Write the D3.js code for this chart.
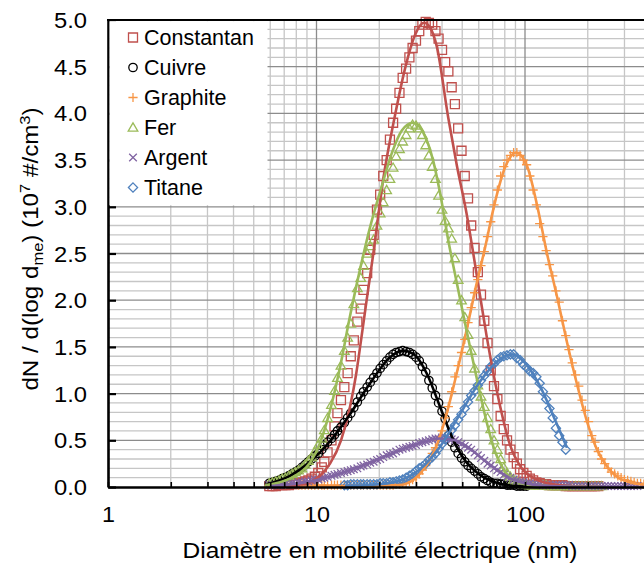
<!DOCTYPE html>
<html><head><meta charset="utf-8">
<script src="https://cdn.jsdelivr.net/npm/d3@7"></script>
<style>
html,body{margin:0;padding:0;background:#fff;}
svg{display:block;font-family:"Liberation Sans",Arial,sans-serif;}
</style></head><body>
<svg id="chart" width="644" height="565"></svg>
<script>
// ---------- DATA ----------
const diameters = [5.94,6.15,6.38,6.61,6.85,7.10,7.37,7.64,7.91,8.20,
8.51,8.82,9.14,9.47,9.82,10.2,10.6,10.9,11.3,11.8,
12.2,12.6,13.1,13.6,14.1,14.6,15.1,15.7,16.3,16.8,
17.5,18.1,18.8,19.5,20.2,20.9,21.7,22.5,23.3,24.1,
25.0,25.9,26.9,27.9,28.9,30.0,31.1,32.2,33.4,34.6,
35.9,37.2,38.5,40.0,41.4,42.9,44.5,46.1,47.8,49.6,
51.4,53.3,55.2,57.3,59.4,61.5,63.8,66.1,68.5,71.0,
73.7,76.4,79.1,82.0,85.1,88.2,91.4,94.7,98.2,101.8,
105.5,109.4,113.4,117.6,121.9,126.3,131.0,135.8,140.7,145.9,
151.2,156.8,162.5,168.5,174.7,181.1,187.7,194.6,201.7,209.1,
216.7,224.7,232.9,241.4,250.3,259.5,269.0,278.8,289.0,299.6,
310.6,322.0,333.8,346.0,358.7,371.8,385.4,399.5];

const seriesNames = ["Constantan","Cuivre","Graphite","Fer","Argent","Titane"];
const seriesStart = [0,0,9,0,0,23];   // first channel index of each series

const constantanValues = [0.01,0.01,0.01,0.02,0.02,0.02,0.02,0.03,0.03,0.04,
0.05,0.06,0.07,0.09,0.11,0.15,0.21,0.27,0.37,0.50,
0.65,0.79,0.93,1.07,1.22,1.40,1.57,1.77,1.91,2.11,
2.29,2.54,2.70,2.97,3.13,3.33,3.50,3.72,3.90,4.05,
4.22,4.38,4.48,4.60,4.70,4.78,4.88,4.95,4.98,4.97,
4.95,4.88,4.80,4.68,4.55,4.45,4.28,4.10,3.84,3.60,
3.33,3.09,2.80,2.56,2.30,2.06,1.78,1.54,1.25,1.08,
0.94,0.76,0.62,0.50,0.40,0.32,0.25,0.19,0.15,0.12,
0.09,0.07,0.05,0.04,0.03,0.03,0.02,0.02,0.02,0.02,
0.02,0.01,0.01,0.01,0.01,0.01,0.01,0.01,0.01,0.01,
0.01,0.01];

const cuivreValues = [0.04,0.05,0.06,0.07,0.09,0.10,0.12,0.14,0.16,0.18,
0.21,0.24,0.27,0.30,0.33,0.36,0.40,0.44,0.48,0.52,
0.56,0.60,0.64,0.69,0.74,0.79,0.85,0.91,0.97,1.02,
1.07,1.12,1.17,1.22,1.27,1.31,1.35,1.39,1.42,1.44,
1.45,1.46,1.45,1.44,1.42,1.39,1.35,1.29,1.23,1.14,
1.06,0.98,0.90,0.81,0.73,0.55,0.48,0.42,0.36,0.31,
0.27,0.23,0.20,0.17,0.14,0.11,0.09,0.07,0.05,0.04,
0.04,0.03,0.03,0.02,0.02,0.02,0.01,0.01,0.01,0.01];

const graphiteValues = [0.02,0.02,0.02,0.02,0.02,0.02,0.02,0.02,0.02,0.02,0.02,
0.02,0.02,0.02,0.02,0.02,0.02,0.02,0.02,0.02,0.02,
0.02,0.02,0.02,0.02,0.02,0.02,0.02,0.02,0.02,0.03,
0.03,0.04,0.05,0.06,0.08,0.10,0.14,0.18,0.23,0.28,
0.36,0.42,0.50,0.60,0.74,0.86,1.02,1.18,1.30,1.44,
1.58,1.76,1.92,2.08,2.22,2.37,2.52,2.68,2.84,3.02,
3.18,3.33,3.43,3.50,3.55,3.58,3.58,3.55,3.50,3.45,
3.33,3.18,3.02,2.82,2.68,2.53,2.38,2.26,2.10,1.98,
1.78,1.62,1.47,1.33,1.20,1.08,0.93,0.82,0.70,0.55,
0.48,0.38,0.30,0.25,0.20,0.16,0.14,0.12,0.10,0.08,
0.07,0.06,0.05,0.04,0.04,0.03,0.03,0.02];

const ferValues = [0.04,0.05,0.06,0.07,0.09,0.10,0.12,0.14,0.16,0.18,
0.20,0.24,0.28,0.32,0.38,0.45,0.52,0.61,0.74,0.88,
1.03,1.17,1.30,1.46,1.60,1.75,1.96,2.13,2.24,2.37,
2.50,2.58,2.65,2.80,2.93,3.05,3.18,3.30,3.42,3.54,
3.62,3.70,3.77,3.84,3.88,3.87,3.84,3.77,3.66,3.55,
3.43,3.30,3.12,2.97,2.85,2.77,2.66,2.45,2.22,2.00,
1.82,1.63,1.46,1.27,1.09,0.97,0.86,0.74,0.62,0.50,
0.40,0.30,0.21,0.15,0.11,0.08,0.06,0.04,0.03,0.03,
0.02,0.02,0.02,0.02,0.02,0.02,0.01,0.01,0.01,0.01,
0.01,0.01,0.01,0.01,0.01,0.01,0.01,0.01,0.01,0.01,
0.01,0.01,0.01];

const argentValues = [0.02,0.02,0.02,0.02,0.03,0.03,0.03,0.04,0.04,0.05,
0.05,0.06,0.06,0.07,0.08,0.08,0.09,0.10,0.11,0.12,
0.13,0.14,0.15,0.16,0.17,0.18,0.19,0.20,0.22,0.23,
0.24,0.26,0.27,0.29,0.30,0.32,0.34,0.35,0.36,0.38,
0.40,0.41,0.42,0.43,0.44,0.45,0.47,0.48,0.49,0.50,
0.51,0.52,0.52,0.53,0.53,0.52,0.51,0.50,0.48,0.46,
0.44,0.42,0.40,0.37,0.34,0.31,0.28,0.25,0.23,0.20,
0.18,0.16,0.13,0.11,0.10,0.08,0.07,0.06,0.05,0.04,
0.04,0.03,0.03,0.03,0.02,0.02,0.02,0.02,0.02,0.02,
0.02,0.02,0.02,0.01,0.01,0.01,0.01,0.01,0.01,0.01,
0.01,0.01,0.01,0.01,0.01,0.01,0.01,0.01,0.01,0.01,
0.01,0.01,0.01,0.01];

const titaneValues = [0.02,0.02,0.03,0.03,0.03,0.03,0.03,
0.03,0.03,0.03,0.03,0.04,0.04,0.04,0.05,0.05,0.06,
0.07,0.08,0.10,0.12,0.14,0.17,0.20,0.22,0.25,0.29,
0.32,0.36,0.41,0.46,0.51,0.56,0.61,0.66,0.72,0.78,
0.84,0.91,0.98,1.03,1.09,1.14,1.19,1.24,1.29,1.32,
1.36,1.39,1.40,1.41,1.42,1.42,1.38,1.36,1.31,1.28,
1.24,1.22,1.18,1.11,1.02,0.94,0.84,0.74,0.63,0.55,
0.48,0.40];

// fitted curves: [diameter (nm), value]
const constantanFit = [[5.77,0.0],[8.33,0.02],[9.31,0.05],[10.39,0.12],[11.61,0.25],[13.11,0.50],[14.48,0.86],[15.47,1.20],[16.35,1.57],[17.47,2.03],[18.73,2.50],[20.91,3.30],[23.80,3.98],[26.58,4.48],[29.68,4.84],[32.78,4.97],[35.03,4.92],[37.72,4.72],[42.87,3.95],[47.04,3.45],[52.53,2.92],[56.49,2.50],[60.84,2.05],[65.52,1.61],[70.47,1.22],[77.31,0.79],[84.76,0.45],[96.43,0.20],[113.8,0.08],[136.2,0.03],[164.4,0.01],[228.9,0.0]];
const cuivreFit = [[5.77,0.03],[7.46,0.12],[9.31,0.27],[11.61,0.49],[14.48,0.78],[18.06,1.11],[22.52,1.39],[25.99,1.46],[29.68,1.41],[33.88,1.21],[39.12,0.86],[45.15,0.51],[52.12,0.27],[60.84,0.13],[71.79,0.05],[89.54,0.01],[118.0,0.0]];
const graphiteFit = [[8.33,0.0],[25.15,0.02],[29.68,0.09],[33.14,0.21],[37.01,0.40],[41.34,0.72],[46.15,1.14],[51.55,1.60],[57.57,2.10],[64.29,2.56],[71.79,3.05],[80.18,3.42],[90.53,3.58],[102.2,3.44],[114.2,3.02],[127.5,2.50],[142.4,2.04],[159.0,1.55],[177.6,1.10],[198.4,0.70],[221.5,0.40],[247.4,0.22],[276.2,0.11],[318.8,0.05],[376.2,0.02],[420.2,0.01]];
const ferFit = [[5.77,0.02],[7.46,0.09],[8.33,0.15],[9.31,0.26],[10.39,0.47],[11.61,0.82],[12.96,1.28],[14.48,1.83],[16.17,2.33],[18.06,2.78],[20.55,3.22],[23.02,3.58],[25.71,3.82],[29.03,3.90],[32.42,3.80],[36.21,3.50],[39.12,3.15],[42.87,2.64],[46.15,2.28],[50.42,1.86],[54.48,1.50],[58.86,1.15],[65.73,0.68],[71.79,0.38],[78.43,0.20],[87.59,0.08],[100,0.03],[124.7,0.01],[228.9,0.0]];
const argentFit = [[5.98,0.01],[8.33,0.04],[11.61,0.11],[16.17,0.22],[22.52,0.35],[31.36,0.47],[39.12,0.52],[46.15,0.50],[54.48,0.41],[64.29,0.28],[75.87,0.16],[89.54,0.07],[105.7,0.03],[131.8,0.01],[228.9,0.0],[376.2,0.0]];
const titaneFit = [[13.70,0.01],[20.16,0.03],[25.15,0.07],[31.36,0.19],[39.12,0.43],[48.78,0.78],[60.84,1.13],[75.87,1.37],[86.62,1.42],[100,1.33],[118.0,1.08],[139.3,0.72],[159.0,0.42]];

const yTickValues = [0,0.5,1,1.5,2,2.5,3,3.5,4,4.5,5];
const xTickLabels = [1,10,100];

// ---------- STYLE ----------
const colors = ["#C0504D","#000000","#F79646","#9BBB59","#8064A2","#4F81BD"];
const markerPaths = [
  "M-4.5,-4.5H4.5V4.5H-4.5Z",
  "M-4.2,0A4.2,4.2 0 1,0 4.2,0A4.2,4.2 0 1,0 -4.2,0Z",
  "M-4.6,0H4.6M0,-4.6V4.6",
  "M0,-4.6L4.8,3.6H-4.8Z",
  "M-3.8,-3.8L3.8,3.8M-3.8,3.8L3.8,-3.8",
  "M0,-4.6L4.6,0L0,4.6L-4.6,0Z"
];
const valuesList = [constantanValues,cuivreValues,graphiteValues,ferValues,argentValues,titaneValues];
const fitList = [constantanFit,cuivreFit,graphiteFit,ferFit,argentFit,titaneFit];

const series = seriesNames.map((name,k)=>({
  name, color: colors[k], marker: markerPaths[k],
  points: valuesList[k].map((v,j)=>({d: diameters[seriesStart[k]+j], v})),
  fit: fitList[k]
}));

// ---------- CHART ----------
const svg = d3.select("#chart");
const x = d3.scaleLog().domain([1,1000]).range([108,733.5]);
const y = d3.scaleLinear().domain([0,5]).range([487,20]);
const FONT = '"Liberation Sans", Arial, sans-serif';

// grid
const minorX = [], majorX = [10,100];
[1,10,100].forEach(dec=>{ for(let k=2;k<=9;k++) minorX.push(dec*k); });
const minorY = d3.range(1,50).filter(i=>i%5!==0).map(i=>i/10);
const majorY = [0.5,1,1.5,2,2.5,3,3.5,4,4.5];
const grid = svg.append("g");
grid.selectAll(".gmy").data(minorY).join("line")
  .attr("x1",108).attr("x2",733.5).attr("y1",d=>y(d)).attr("y2",d=>y(d))
  .attr("stroke","#c6c6c6").attr("stroke-width",1.3);
grid.selectAll(".gmx").data(minorX).join("line")
  .attr("x1",d=>x(d)).attr("x2",d=>x(d)).attr("y1",20).attr("y2",487)
  .attr("stroke","#c6c6c6").attr("stroke-width",1.3);
grid.selectAll(".gMy").data(majorY).join("line")
  .attr("x1",108).attr("x2",733.5).attr("y1",d=>y(d)).attr("y2",d=>y(d))
  .attr("stroke","#8c8c8c").attr("stroke-width",1.3);
grid.selectAll(".gMx").data(majorX).join("line")
  .attr("x1",d=>x(d)).attr("x2",d=>x(d)).attr("y1",20).attr("y2",487)
  .attr("stroke","#8c8c8c").attr("stroke-width",1.3);

// markers
series.forEach(s=>{
  svg.append("g").selectAll("path").data(s.points).join("path")
    .attr("d",s.marker)
    .attr("transform",p=>`translate(${x(p.d)},${y(p.v)})`)
    .attr("fill","none").attr("stroke",s.color).attr("stroke-width",1.3);
});
// fitted lines
const line = d3.line().x(p=>x(p[0])).y(p=>y(p[1])).curve(d3.curveMonotoneX);
series.forEach(s=>{
  svg.append("path").attr("d",line(s.fit))
    .attr("fill","none").attr("stroke",s.color).attr("stroke-width",2.6)
    .attr("stroke-linejoin","round");
});

// top border
svg.append("line").attr("x1",107).attr("x2",733.5).attr("y1",20).attr("y2",20)
  .attr("stroke","#000").attr("stroke-width",2.2);

// axes
const yAxis = d3.axisLeft(y).tickValues(yTickValues).tickSize(-8).tickSizeOuter(0)
  .tickPadding(21).tickFormat(d3.format(".1f"));
const gy = svg.append("g").attr("transform","translate(108,0)").call(yAxis);
gy.select(".domain").attr("stroke","#000").attr("stroke-width",2.6);
gy.selectAll(".tick line").attr("stroke","#000").attr("stroke-width",2.2);
gy.selectAll(".tick text").attr("font-size",21.5).attr("font-family",FONT)
  .attr("fill","#000").attr("dy","0.35em")
  .attr("textLength",33).attr("lengthAdjust","spacingAndGlyphs");

const xTickValues = [1].concat(minorX.filter(v=>v<10),[10],minorX.filter(v=>v>10&&v<100),[100],minorX.filter(v=>v>100));
const xAxis = d3.axisBottom(x).tickValues(xTickValues).tickSize(-5).tickSizeOuter(0)
  .tickPadding(20).tickFormat(d=>xTickLabels.includes(d)?String(d):"");
const gx = svg.append("g").attr("transform","translate(0,487)").call(xAxis);
gx.select(".domain").attr("stroke","#000").attr("stroke-width",2.6);
gx.selectAll(".tick line").attr("stroke","#000").attr("stroke-width",1.6);
gx.selectAll(".tick text").attr("font-size",21.5).attr("font-family",FONT)
  .attr("fill","#000")
  .filter(d=>xTickLabels.includes(d))
  .attr("textLength",d=>String(d).length*13).attr("lengthAdjust","spacingAndGlyphs");

// legend
const lg = svg.append("g");
lg.append("rect").attr("x",109.5).attr("y",21.2).attr("width",158).attr("height",184).attr("fill","#fff");
series.forEach((s,k)=>{
  const cy = 37.5 + 30*k;
  lg.append("path").attr("d",s.marker).attr("transform",`translate(133,${cy})`)
    .attr("fill","none").attr("stroke",s.color).attr("stroke-width",1.3);
  lg.append("text").attr("x",144).attr("y",cy+7.6).attr("font-size",21.5)
    .attr("font-family",FONT).attr("fill","#000").text(s.name);
});

// axis titles
svg.append("text").attr("x",380).attr("y",558).attr("text-anchor","middle")
  .attr("font-size",21.5).attr("font-family",FONT).attr("fill","#000")
  .attr("textLength",395).attr("lengthAdjust","spacingAndGlyphs")
  .text("Diamètre en mobilité électrique (nm)");

const yt = svg.append("g").attr("transform","translate(38,249) rotate(-90) scale(1.1,1)")
  .append("text").attr("text-anchor","middle").attr("font-size",22)
  .attr("font-family",FONT).attr("fill","#000");
yt.append("tspan").text("dN / d(log d");
yt.append("tspan").attr("font-size",15).attr("dy",5).text("me");
yt.append("tspan").attr("dy",-5).text(") (10");
yt.append("tspan").attr("font-size",15).attr("dy",-8).text("7");
yt.append("tspan").attr("dy",8).text(" #/cm");
yt.append("tspan").attr("font-size",15).attr("dy",-8).text("3");
yt.append("tspan").attr("dy",8).text(")");
</script>
</body></html>
